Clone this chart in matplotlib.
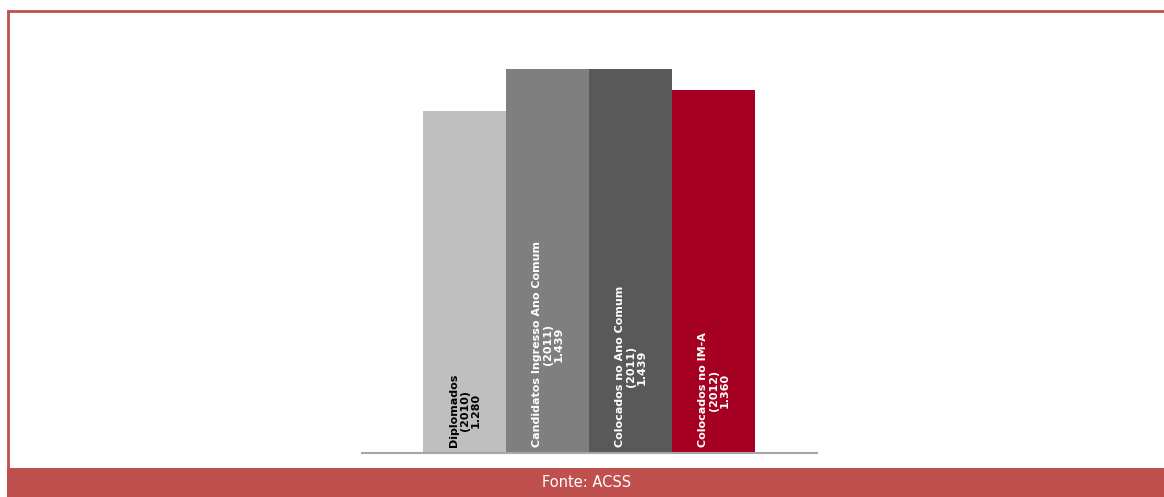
import matplotlib.pyplot as plt
from matplotlib.lines import Line2D
from matplotlib.patches import Rectangle

categories = [
    "Diplomados\n(2010)",
    "Candidatos Ingresso Ano Comum\n(2011)",
    "Colocados no Ano Comum\n(2011)",
    "Colocados no IM-A\n(2012)",
]
values = [1280, 1439, 1439, 1360]
value_labels = ["1.280", "1.439", "1.439", "1.360"]
bar_colors = ["#BFBFBF", "#7F7F7F", "#595959", "#A50021"]
text_colors = ["black", "white", "white", "white"]
source = "Fonte: ACSS"

W, H = 1164, 497
fig = plt.figure(figsize=(W / 100, H / 100), dpi=100)

# axes placed in pixel terms: baseline at y=453, axis line from x=362 to 817
x0, x1 = 362, 817
y_base, y_top = 453, 26
ax = fig.add_axes([x0 / W, 1 - y_base / H, (x1 - x0) / W, (y_base - y_top) / H])

xs = list(range(len(values)))
ax.bar(xs, values, width=1.0, color=bar_colors, edgecolor="none")
ax.set_xlim(-1.235, 4.247)
ax.set_ylim(0, 1600)

for x, cat, val, tc in zip(xs, categories, value_labels, text_colors):
    ax.annotate(f"{cat}\n{val}", xy=(x, 0), xytext=(0, 4), textcoords="offset points",
                rotation=90, ha="center", va="bottom", multialignment="center",
                fontsize=8, fontweight="bold", color=tc, linespacing=1.1)

for side in ["top", "right", "left"]:
    ax.spines[side].set_visible(False)
ax.spines["bottom"].set_color("#A6A6A6")
ax.spines["bottom"].set_linewidth(1.5)
ax.set_xticks([])
ax.set_yticks([])

# frame and source band
red = "#C0504D"
left = 8 / W
top = 1 - 11 / H
band_h = 29 / H
fig.add_artist(Line2D([left, 1], [top, top], color=red, lw=2, transform=fig.transFigure))
fig.add_artist(Line2D([left, left], [band_h, top], color=red, lw=2, transform=fig.transFigure))
fig.add_artist(Rectangle((left - 1 / W, 0), 1 - left + 1 / W, band_h, facecolor=red,
                         edgecolor="none", transform=fig.transFigure))
fig.text(587 / W, band_h / 2, source, color="white", fontsize=10.5, ha="center", va="center")

fig.savefig("out.png", dpi=100)
